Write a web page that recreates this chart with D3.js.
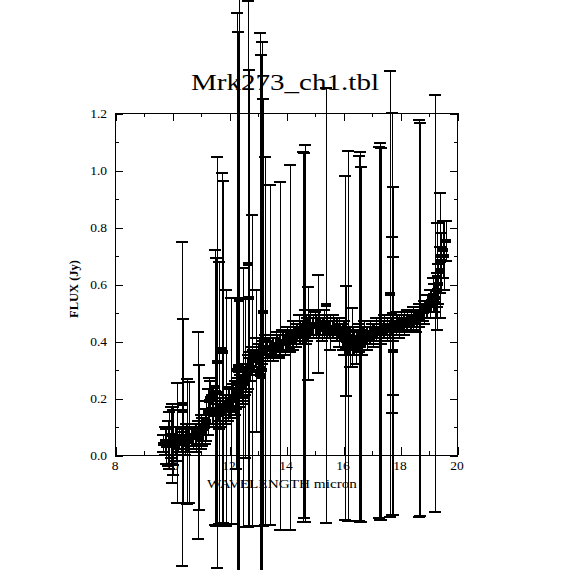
<!DOCTYPE html>
<html>
<head>
<meta charset="utf-8">
<script src="https://cdn.jsdelivr.net/npm/d3@7"></script>
<style>
html,body{margin:0;padding:0;background:#fff;}
svg{display:block;}
text{font-family:"Liberation Serif","DejaVu Serif",serif;fill:#000;}
</style>
</head>
<body>
<svg id="chart" width="570" height="570"></svg>
<script>
// ---- data ----
const title = "Mrk273_ch1.tbl";
const xLabel = "WAVELENGTH micron";
const yLabel = "FLUX (Jy)";
const xTicks = [8, 10, 12, 14, 16, 18, 20];
const yTicks = [0.0, 0.2, 0.4, 0.6, 0.8, 1.0, 1.2];

// main spectrum, set A
const bandWave = [9.7,9.8,9.9,10.0,10.1,10.2,10.3,10.4,10.5,10.6,10.7,10.8,10.9,11.0,11.1,11.2,11.3,11.4,11.5,11.6,
  11.7,11.8,11.9,12.0,12.1,12.2,12.3,12.4,12.5,12.6,12.7,12.8,12.9,13.0,13.1,13.2,13.3,13.4,13.5,13.6,
  13.7,13.8,13.9,14.0,14.1,14.2,14.3,14.4,14.5,14.6,14.7,14.8,14.9,15.0,15.1,15.2,15.3,15.4,15.5,15.6,
  15.7,15.8,15.9,16.0,16.1,16.2,16.3,16.4,16.5,16.6,16.7,16.8,16.9,17.0,17.1,17.2,17.3,17.4,17.5,17.6,
  17.7,17.8,17.9,18.0,18.1,18.2,18.3,18.4,18.5,18.6,18.7,18.8,18.9,19.0,19.1,19.2,19.3,19.4,19.5,19.6];
const bandFlux = [0.04,0.03,0.05,0.04,0.05,0.04,0.05,0.05,0.06,0.05,0.06,0.07,0.07,0.08,0.09,0.12,0.19,0.16,0.14,0.15,
  0.15,0.16,0.17,0.18,0.19,0.20,0.22,0.24,0.25,0.27,0.30,0.33,0.34,0.35,0.36,0.37,0.37,0.38,0.38,0.38,
  0.39,0.39,0.40,0.40,0.40,0.41,0.42,0.43,0.43,0.44,0.44,0.45,0.45,0.46,0.45,0.45,0.45,0.44,0.44,0.44,
  0.45,0.44,0.43,0.42,0.41,0.40,0.39,0.39,0.40,0.41,0.42,0.42,0.42,0.43,0.43,0.43,0.44,0.44,0.44,0.44,
  0.45,0.45,0.46,0.46,0.46,0.46,0.47,0.47,0.48,0.48,0.49,0.50,0.51,0.53,0.54,0.55,0.58,0.65,0.72,0.75];
const bandErr = [0.03,0.06,0.10,0.14,0.05,0.03,0.04,0.03,0.05,0.02,0.03,0.04,0.05,0.06,0.04,0.07,0.08,0.05,0.04,0.03,
  0.05,0.04,0.03,0.05,0.04,0.06,0.05,0.04,0.06,0.05,0.04,0.05,0.03,0.04,0.05,0.03,0.03,0.03,0.03,0.03,
  0.03,0.03,0.03,0.03,0.04,0.03,0.03,0.03,0.04,0.03,0.05,0.04,0.03,0.04,0.03,0.03,0.03,0.03,0.03,0.03,
  0.03,0.04,0.03,0.05,0.04,0.05,0.04,0.04,0.03,0.03,0.03,0.03,0.03,0.03,0.03,0.02,0.03,0.03,0.02,0.03,
  0.03,0.02,0.03,0.02,0.03,0.03,0.02,0.03,0.02,0.03,0.02,0.03,0.03,0.03,0.04,0.05,0.06,0.08,0.10,0.07];

// main spectrum, set B (interleaved wavelengths)
const band2Wave = [9.75,9.85,9.95,10.05,10.15,10.25,10.35,10.45,10.55,10.65,10.75,10.85,10.95,11.05,11.15,11.25,11.35,11.45,11.55,11.65,
  11.75,11.85,11.95,12.05,12.15,12.25,12.35,12.45,12.55,12.65,12.75,12.85,12.95,13.05,13.15,13.25,13.35,13.45,13.55,13.65,
  13.75,13.85,13.95,14.05,14.15,14.25,14.35,14.45,14.55,14.65,14.75,14.85,14.95,15.05,15.15,15.25,15.35,15.45,15.55,15.65,
  15.75,15.85,15.95,16.05,16.15,16.25,16.35,16.45,16.55,16.65,16.75,16.85,16.95,17.05,17.15,17.25,17.35,17.45,17.55,17.65,
  17.75,17.85,17.95,18.05,18.15,18.25,18.35,18.45,18.55,18.65,18.75,18.85,18.95,19.05,19.15,19.25,19.35,19.45,19.55];
const band2Flux = [0.05,0.04,0.03,0.05,0.04,0.06,0.04,0.05,0.05,0.06,0.06,0.06,0.08,0.08,0.10,0.15,0.20,0.15,0.15,0.14,
  0.16,0.16,0.18,0.17,0.20,0.21,0.23,0.25,0.26,0.29,0.31,0.33,0.35,0.36,0.36,0.38,0.37,0.38,0.37,0.39,
  0.38,0.40,0.39,0.41,0.40,0.42,0.42,0.44,0.43,0.45,0.44,0.46,0.45,0.45,0.46,0.44,0.46,0.45,0.43,0.45,
  0.44,0.43,0.42,0.41,0.40,0.38,0.40,0.38,0.41,0.40,0.43,0.41,0.43,0.42,0.44,0.43,0.43,0.45,0.44,0.45,
  0.44,0.46,0.45,0.47,0.46,0.47,0.46,0.48,0.47,0.49,0.50,0.50,0.52,0.53,0.56,0.55,0.60,0.68,0.70];
const band2Err = [0.05,0.08,0.04,0.12,0.06,0.04,0.03,0.05,0.04,0.03,0.04,0.05,0.04,0.05,0.06,0.08,0.06,0.05,0.04,0.05,
  0.04,0.05,0.06,0.04,0.05,0.05,0.06,0.07,0.05,0.06,0.05,0.04,0.06,0.05,0.04,0.04,0.04,0.04,0.04,0.04,
  0.04,0.04,0.04,0.04,0.04,0.05,0.04,0.05,0.04,0.06,0.04,0.05,0.04,0.04,0.05,0.04,0.05,0.04,0.06,0.04,
  0.04,0.05,0.04,0.06,0.05,0.07,0.05,0.06,0.05,0.05,0.04,0.04,0.04,0.04,0.04,0.04,0.04,0.04,0.04,0.04,
  0.04,0.04,0.04,0.03,0.04,0.04,0.03,0.04,0.04,0.04,0.03,0.04,0.04,0.05,0.06,0.07,0.07,0.10,0.12];

// noisy points with large uncertainties
const noisyWave = [10.18,10.35,10.37,10.53,10.60,10.91,10.93,11.51,11.58,11.65,11.75,11.89,12.07,12.32,12.35,12.49,12.67,12.70,12.81,13.12,
  13.16,13.19,13.26,13.44,13.79,14.14,14.60,14.67,15.40,16.18,16.07,16.60,16.63,17.30,17.33,17.65,17.72,17.75,18.67,18.70,
  19.23,19.40,19.30,15.12,16.10,16.32,10.04,14.77,17.72,17.75,9.95,12.25,12.55,12.95,
  12.29,13.09,14.63,16.57,17.27,11.54,11.78];
const noisyFlux = [0.042,0.179,0.154,0.047,0.044,0.068,0.061,0.237,0.325,0.218,0.372,0.165,0.154,0.314,0.544,0.202,0.67,0.55,0.296,0.272,
  0.30,0.50,0.40,0.351,0.347,0.377,0.414,0.426,0.525,0.418,0.375,0.414,0.388,0.433,0.425,0.565,0.495,0.365,0.479,0.475,
  0.532,0.70,0.626,0.46,0.40,0.412,0.061,0.426,0.456,0.453,0.07,0.25,0.27,0.33,
  0.30,0.28,0.42,0.41,0.43,0.22,0.36];
const noisyErr = [0.21,0.568,0.323,0.219,0.212,0.363,0.254,0.482,0.721,0.46,0.618,0.414,0.396,1.17,1.40,0.454,0.923,0.80,0.546,1.13,
  1.15,0.75,0.646,0.596,0.61,0.64,0.649,0.661,0.763,0.649,0.604,0.649,0.623,0.661,0.652,0.782,0.705,0.575,0.696,0.69,
  0.732,0.22,0.188,0.172,0.193,0.103,0.096,0.163,0.309,0.242,0.10,0.30,0.28,0.25,
  1.25,1.20,0.64,0.64,0.65,0.47,0.60];

// ---- drawing ----
const svg = d3.select("#chart");
const pLeft = 115, pRight = 457, pTop = 113, pBottom = 455;
const x = d3.scaleLinear().domain([8, 20]).range([pLeft, pRight]);
const y = d3.scaleLinear().domain([0, 1.2]).range([pBottom, pTop]);

const points = [];
bandWave.forEach((w, i) => points.push({w: w, f: bandFlux[i], e: bandErr[i]}));
band2Wave.forEach((w, i) => points.push({w: w, f: band2Flux[i], e: band2Err[i]}));
noisyWave.forEach((w, i) => points.push({w: w, f: noisyFlux[i], e: noisyErr[i]}));

const g = svg.append("g").attr("stroke", "#000").attr("stroke-width", 1).attr("shape-rendering", "crispEdges");
const capHalf = 6;
const eb = g.selectAll("g.eb").data(points).enter().append("g").attr("class", "eb");
eb.append("line")
  .attr("x1", d => Math.round(x(d.w)) + 0.5).attr("x2", d => Math.round(x(d.w)) + 0.5)
  .attr("y1", d => y(d.f + d.e)).attr("y2", d => y(d.f - d.e));
eb.append("line")
  .attr("x1", d => x(d.w) - capHalf).attr("x2", d => x(d.w) + capHalf)
  .attr("y1", d => Math.round(y(d.f + d.e))).attr("y2", d => Math.round(y(d.f + d.e)))
  .attr("stroke-width", 2);
eb.append("line")
  .attr("x1", d => x(d.w) - capHalf).attr("x2", d => x(d.w) + capHalf)
  .attr("y1", d => Math.round(y(d.f - d.e))).attr("y2", d => Math.round(y(d.f - d.e)))
  .attr("stroke-width", 2);
eb.append("line")
  .attr("x1", d => x(d.w) - 5).attr("x2", d => x(d.w) + 5)
  .attr("y1", d => Math.round(y(d.f))).attr("y2", d => Math.round(y(d.f)))
  .attr("stroke-width", 4);

// frame
const ax = svg.append("g").attr("stroke", "#000").attr("stroke-width", 1).attr("shape-rendering", "crispEdges");
ax.append("rect").attr("x", pLeft + 0.5).attr("y", pTop + 0.5)
  .attr("width", pRight - pLeft).attr("height", pBottom - pTop).attr("fill", "none");

// ticks using axis generators (inward)
const xMinor = d3.range(8, 20.001, 1);
const yMinor = d3.range(0, 1.2001, 0.1);
function styleAxis(sel){ sel.select(".domain").remove(); sel.selectAll("text").remove(); sel.selectAll("line").attr("stroke","#000"); }
svg.append("g").attr("transform", `translate(0.5,${pBottom})`).call(d3.axisTop(x).tickValues(xMinor).tickSize(4)).call(styleAxis);
svg.append("g").attr("transform", `translate(0.5,${pBottom})`).call(d3.axisTop(x).tickValues(xTicks).tickSize(8)).call(styleAxis);
svg.append("g").attr("transform", `translate(0.5,${pTop})`).call(d3.axisBottom(x).tickValues(xMinor).tickSize(4)).call(styleAxis);
svg.append("g").attr("transform", `translate(0.5,${pTop})`).call(d3.axisBottom(x).tickValues(xTicks).tickSize(8)).call(styleAxis);
svg.append("g").attr("transform", `translate(${pLeft},0.5)`).call(d3.axisRight(y).tickValues(yMinor).tickSize(4)).call(styleAxis);
svg.append("g").attr("transform", `translate(${pLeft},0.5)`).call(d3.axisRight(y).tickValues(yTicks).tickSize(8)).call(styleAxis);
svg.append("g").attr("transform", `translate(${pRight + 1},0.5)`).call(d3.axisLeft(y).tickValues(yMinor).tickSize(4)).call(styleAxis);
svg.append("g").attr("transform", `translate(${pRight + 1},0.5)`).call(d3.axisLeft(y).tickValues(yTicks).tickSize(8)).call(styleAxis);
svg.selectAll(".tick").attr("shape-rendering", "crispEdges");

// tick labels
svg.append("g").selectAll("text").data(xTicks).enter().append("text")
  .attr("x", d => x(d)).attr("y", 470).attr("text-anchor", "middle")
  .attr("font-size", 13.5).text(d => d3.format("d")(d));
svg.append("g").selectAll("text").data(yTicks).enter().append("text")
  .attr("x", 107).attr("y", d => y(d) + 5).attr("text-anchor", "end")
  .attr("font-size", 13.5).text(d => d3.format(".1f")(d));

// title and axis labels
svg.append("text").attr("x", 191).attr("y", 90).attr("font-size", 23.5)
  .attr("textLength", 188).attr("lengthAdjust", "spacingAndGlyphs").text(title);
svg.append("text").attr("x", 207).attr("y", 488).attr("font-size", 12.5)
  .attr("textLength", 150).attr("lengthAdjust", "spacingAndGlyphs").text(xLabel);
svg.append("text").attr("transform", "translate(78,289) rotate(-90)").attr("text-anchor", "middle")
  .attr("font-size", 12.5).attr("font-weight", "bold").text(yLabel);
</script>
</body>
</html>
